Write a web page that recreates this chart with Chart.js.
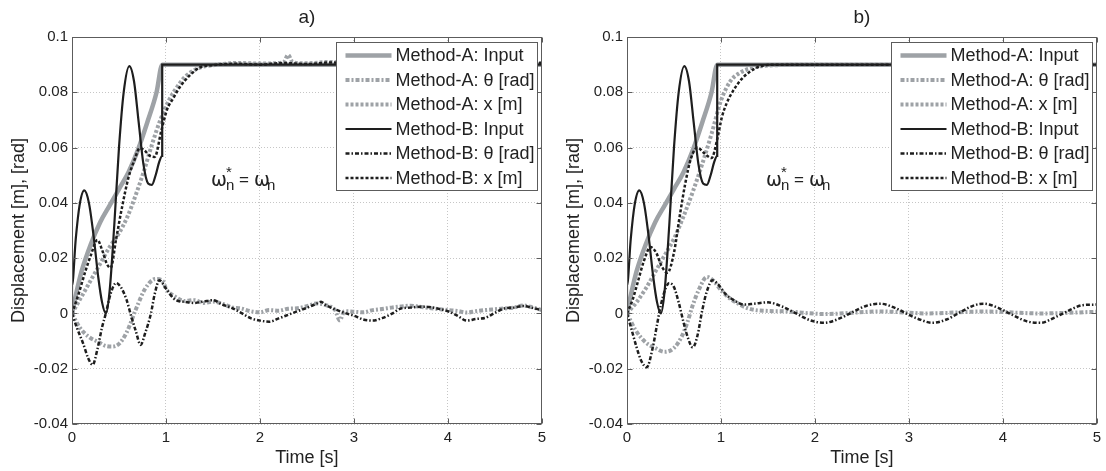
<!DOCTYPE html>
<html>
<head>
<meta charset="utf-8">
<script src="https://cdn.jsdelivr.net/npm/chart.js@4.4.1/dist/chart.umd.min.js"></script>
<style>
  html, body { margin: 0; padding: 0; background: #fff; }
  #wrap { position: relative; width: 1106px; height: 471px; }
  canvas { position: absolute; top: 0; }
  #ca { left: 0; }
  #cb { left: 555px; }
</style>
</head>
<body>
<div id="wrap">
  <canvas id="ca" width="551" height="471"></canvas>
  <canvas id="cb" width="551" height="471"></canvas>
</div>
<script>
// axis ticks and labels
const xTicks = [0, 1, 2, 3, 4, 5];
const yTicks = [-0.04, -0.02, 0, 0.02, 0.04, 0.06, 0.08, 0.1];
const panelTitles = ['a)', 'b)'];
const seriesLabels = ['Method-A: Input', 'Method-A: θ [rad]', 'Method-A: x [m]',
                      'Method-B: Input', 'Method-B: θ [rad]', 'Method-B: x [m]'];

// inputs (same in both panels)
const inputAT = [0, 0.05, 0.1, 0.2, 0.3, 0.4, 0.5, 0.6, 0.7, 0.8, 0.9, 0.96, 5];
const inputAV = [0, 0.008, 0.015, 0.025, 0.033, 0.039, 0.045, 0.051, 0.059, 0.069, 0.080, 0.09, 0.09];
const inputBT = [0, 0, 0.04, 0.08, 0.13, 0.18, 0.23, 0.28, 0.32, 0.36, 0.40, 0.45, 0.50, 0.55, 0.61, 0.66, 0.71, 0.76, 0.81, 0.85, 0.89, 0.93, 0.96, 0.96, 5];
const inputBV = [0, 0.01, 0.027, 0.039, 0.0445, 0.040, 0.028, 0.013, 0.004, 0.0, 0.008, 0.032, 0.060, 0.080, 0.0895, 0.084, 0.069, 0.054, 0.047, 0.0465, 0.050, 0.055, 0.057, 0.09, 0.09];

// panel a) measured
const aThetaAT = [0, 0.08, 0.18, 0.29, 0.36, 0.43, 0.5, 0.58, 0.68, 0.78, 0.89, 0.97, 1.0, 1.1, 1.2, 1.3, 1.4, 1.5, 1.6, 1.7, 1.8, 1.9, 2.0, 2.1, 2.2, 2.3, 2.4, 2.5, 2.6, 2.7, 2.8, 2.85, 2.9, 3.0, 3.1, 3.2, 3.3, 3.4, 3.5, 3.6, 3.7, 3.8, 3.9, 4.0, 4.1, 4.2, 4.3, 4.4, 4.5, 4.6, 4.7, 4.8, 4.9, 5.0];
const aThetaAV = [0, -0.005, -0.0085, -0.0105, -0.0118, -0.012, -0.011, -0.007, 0.0015, 0.009, 0.0125, 0.0115, 0.009, 0.006, 0.0045, 0.0048, 0.0038, 0.0043, 0.0035, 0.0022, 0.0018, 0.0008, 0.0004, 0.0012, 0.0010, 0.0017, 0.0019, 0.0026, 0.0036, 0.0030, 0.0012, -0.0025, 0.0008, 0.0006, 0.0004, 0.0012, 0.0016, 0.0021, 0.0025, 0.0028, 0.0024, 0.0020, 0.0016, 0.0012, 0.0009, 0.0003, 0.0008, 0.0012, 0.0015, 0.0018, 0.0021, 0.0029, 0.0022, 0.0012];
const aXAT = [0, 0.1, 0.2, 0.3, 0.4, 0.5, 0.59, 0.68, 0.77, 0.85, 0.94, 1.03, 1.12, 1.2, 1.3, 1.4, 1.5, 1.6, 1.75, 2.0, 2.25, 2.3, 2.35, 2.5, 2.75, 3.0, 3.25, 3.5, 3.75, 4.0, 4.25, 4.5, 4.75, 5.0];
const aXAV = [0, 0.006, 0.012, 0.018, 0.024, 0.029, 0.035, 0.043, 0.052, 0.061, 0.070, 0.077, 0.082, 0.0855, 0.088, 0.0893, 0.0898, 0.0902, 0.0906, 0.0904, 0.0908, 0.0935, 0.0908, 0.0905, 0.0910, 0.0906, 0.0909, 0.0905, 0.0911, 0.0906, 0.0909, 0.0904, 0.0910, 0.0905];
const aThetaBT = [0, 0.05, 0.12, 0.17, 0.22, 0.27, 0.32, 0.36, 0.41, 0.47, 0.52, 0.58, 0.63, 0.68, 0.73, 0.78, 0.84, 0.88, 0.93, 1.0, 1.1, 1.2, 1.3, 1.4, 1.5, 1.6, 1.7, 1.8, 1.9, 2.0, 2.1, 2.2, 2.3, 2.4, 2.5, 2.6, 2.65, 2.7, 2.8, 2.9, 3.0, 3.1, 3.2, 3.3, 3.4, 3.5, 3.6, 3.7, 3.8, 3.9, 4.0, 4.1, 4.2, 4.3, 4.4, 4.5, 4.6, 4.7, 4.8, 4.9, 5.0];
const aThetaBV = [0, -0.005, -0.011, -0.016, -0.0186, -0.013, -0.005, 0.0, 0.007, 0.011, 0.0095, 0.005, -0.001, -0.0065, -0.0114, -0.007, 0.0, 0.007, 0.012, 0.009, 0.0049, 0.0042, 0.0038, 0.0043, 0.0048, 0.0032, 0.002, 0.0002, -0.0017, -0.0026, -0.003, -0.0018, -0.0005, 0.0008, 0.002, 0.0035, 0.0042, 0.0030, 0.0015, 0.0002, -0.0008, -0.0022, -0.0026, -0.0017, -0.0002, 0.0018, 0.0021, 0.0024, 0.0023, 0.0017, 0.0008, -0.0008, -0.0026, -0.0020, -0.0016, 0.0002, 0.0018, 0.0021, 0.0027, 0.0020, 0.0012];
const aXBT = [0, 0.07, 0.14, 0.2, 0.27, 0.32, 0.37, 0.41, 0.47, 0.53, 0.6, 0.67, 0.72, 0.77, 0.83, 0.88, 0.95, 1.01, 1.08, 1.15, 1.25, 1.36, 1.5, 1.75, 2.0, 2.25, 2.5, 2.75, 3.0, 3.25, 3.5, 3.75, 4.0, 4.25, 4.5, 4.75, 5.0];
const aXBV = [0, 0.007, 0.015, 0.021, 0.0266, 0.023, 0.018, 0.0164, 0.027, 0.038, 0.049, 0.056, 0.0598, 0.059, 0.057, 0.0566, 0.066, 0.0736, 0.078, 0.082, 0.086, 0.089, 0.0898, 0.0903, 0.0900, 0.0906, 0.0902, 0.0908, 0.0903, 0.0907, 0.0904, 0.0909, 0.0905, 0.0907, 0.0903, 0.0908, 0.0906];

// panel b) simulated
const bThetaAT = [0, 0.09, 0.2, 0.3, 0.4, 0.5, 0.58, 0.64, 0.7, 0.77, 0.85, 0.92, 1.0, 1.08, 1.17, 1.26, 1.35, 1.5, 1.7, 2.1, 2.7, 3.2, 3.8, 4.4, 5.0];
const bThetaAV = [0, -0.006, -0.0105, -0.0125, -0.0139, -0.0125, -0.0085, -0.0035, 0.003, 0.009, 0.0132, 0.0118, 0.0085, 0.0058, 0.0038, 0.0022, 0.0013, 0.0009, 0.0007, -0.0002, 0.0007, 0.0, 0.0007, 0.0, 0.0006];
const bXAT = [0, 0.1, 0.2, 0.3, 0.4, 0.5, 0.6, 0.7, 0.8, 0.9, 1.0, 1.1, 1.2, 1.35, 1.6, 2.0, 5];
const bXAV = [0, 0.004, 0.009, 0.015, 0.021, 0.027, 0.035, 0.044, 0.054, 0.065, 0.077, 0.084, 0.087, 0.089, 0.0898, 0.09, 0.09];
const bThetaBT = [0, 0.05, 0.1, 0.15, 0.21, 0.27, 0.32, 0.36, 0.41, 0.45, 0.5, 0.55, 0.6, 0.65, 0.7, 0.75, 0.8, 0.85, 0.91, 0.97, 1.05, 1.15, 1.25, 1.35, 1.5, 1.65, 1.8, 1.95, 2.1, 2.25, 2.4, 2.55, 2.7, 2.85, 3.0, 3.1, 3.25, 3.4, 3.55, 3.7, 3.8, 3.95, 4.1, 4.25, 4.4, 4.55, 4.7, 4.85, 5.0];
const bThetaBV = [0, -0.006, -0.012, -0.017, -0.0195, -0.013, -0.004, 0.003, 0.009, 0.011, 0.0095, 0.004, -0.003, -0.009, -0.0123, -0.008, 0.001, 0.008, 0.012, 0.0105, 0.007, 0.0045, 0.0032, 0.0035, 0.004, 0.0025, 0.0, -0.0025, -0.0034, -0.002, 0.0005, 0.0028, 0.0035, 0.002, -0.0005, -0.002, -0.0034, -0.0022, 0.0005, 0.003, 0.0035, 0.002, -0.0005, -0.0028, -0.0034, -0.0015, 0.001, 0.003, 0.0032];
const bXBT = [0, 0.06, 0.12, 0.18, 0.25, 0.31, 0.37, 0.43, 0.5, 0.56, 0.62, 0.68, 0.75, 0.82, 0.9, 0.96, 1.01, 1.06, 1.12, 1.2, 1.29, 1.43, 1.6, 2.0, 5];
const bXBV = [0, 0.005, 0.012, 0.019, 0.024, 0.022, 0.017, 0.0147, 0.022, 0.035, 0.047, 0.056, 0.060, 0.058, 0.0562, 0.063, 0.071, 0.076, 0.080, 0.084, 0.087, 0.0895, 0.09, 0.09, 0.09];

const GRAY = '#9ea2a6';
const DARK = '#1e1e1e';
const FONT = "'Liberation Sans', Arial, sans-serif";
const styles = [
  { color: GRAY, width: 4.5, dash: [], order: 2 },
  { color: GRAY, width: 4, dash: [4, 2, 2, 2], order: 2 },
  { color: GRAY, width: 4, dash: [3, 2], order: 2 },
  { color: DARK, width: 2.2, dash: [], order: 1 },
  { color: DARK, width: 2.5, dash: [4, 2, 1.5, 2], order: 1 },
  { color: DARK, width: 2.5, dash: [3, 2], order: 1 }
];

// annotation anchor (data units)
const noteX = 1.48, noteY = 0.046;

function decor(title) {
  return {
    id: 'decor',
    afterDatasetsDraw(chart) {
      const { ctx, chartArea: a, scales: { x, y } } = chart;
      const L = Math.round(a.left) + 0.5, R = Math.round(a.right) - 0.5;
      const T = Math.round(a.top) + 0.5, B = Math.round(a.bottom) - 0.5;
      ctx.save();
      // frame and inward ticks
      ctx.strokeStyle = '#5c5c5c';
      ctx.lineWidth = 1;
      ctx.setLineDash([]);
      ctx.strokeRect(L, T, R - L, B - T);
      ctx.beginPath();
      xTicks.forEach(v => {
        const px = Math.round(x.getPixelForValue(v)) + 0.5;
        ctx.moveTo(px, B); ctx.lineTo(px, B - 5);
        ctx.moveTo(px, T); ctx.lineTo(px, T + 5);
      });
      yTicks.forEach(v => {
        const py = Math.round(y.getPixelForValue(v)) + 0.5;
        ctx.moveTo(L, py); ctx.lineTo(L + 5, py);
        ctx.moveTo(R, py); ctx.lineTo(R - 5, py);
      });
      ctx.stroke();

      // legend box
      const bw = 201, bh = 148;
      const bx = Math.round(a.right) - 5 - bw + 0.5, by = Math.round(a.top) + 5 + 0.5;
      ctx.fillStyle = '#fff';
      ctx.fillRect(bx, by, bw, bh);
      ctx.strokeStyle = '#5c5c5c';
      ctx.strokeRect(bx, by, bw, bh);
      ctx.font = '18px ' + FONT;
      ctx.textBaseline = 'middle';
      ctx.textAlign = 'left';
      chart.data.datasets.forEach((ds, i) => {
        const ry = by + 13 + i * 24.5;
        ctx.save();
        ctx.strokeStyle = ds.borderColor;
        ctx.lineWidth = ds.borderWidth;
        ctx.setLineDash(ds.borderDash);
        ctx.beginPath();
        ctx.moveTo(bx + 9, ry); ctx.lineTo(bx + 55, ry);
        ctx.stroke();
        ctx.restore();
        ctx.fillStyle = '#222';
        ctx.fillText(ds.label, bx + 59, ry + 1);
      });

      // annotation ω*n = ωn
      const ax = x.getPixelForValue(noteX), ay = y.getPixelForValue(noteY);
      ctx.fillStyle = '#222';
      ctx.textBaseline = 'alphabetic';
      ctx.font = "19px 'DejaVu Sans', sans-serif";
      ctx.fillText('ω', ax, ay);
      ctx.fillText('ω', ax + 43, ay);
      ctx.font = '15px ' + FONT;
      ctx.fillText('n', ax + 15, ay + 4);
      ctx.fillText('*', ax + 15, ay - 9);
      ctx.fillText('n', ax + 56, ay + 4);
      ctx.font = '17px ' + FONT;
      ctx.fillText('=', ax + 28, ay - 1);

      // panel title
      ctx.font = '19px ' + FONT;
      ctx.textAlign = 'center';
      ctx.textBaseline = 'middle';
      ctx.fillText(title, (a.left + a.right) / 2, 18);
      ctx.restore();
    }
  };
}

function makeChart(id, title, sets) {
  const datasets = sets.map((s, i) => ({
    label: seriesLabels[i],
    data: s[0].map((t, k) => ({ x: t, y: s[1][k] })),
    borderColor: styles[i].color,
    borderWidth: styles[i].width,
    borderDash: styles[i].dash,
    borderCapStyle: 'butt',
    order: styles[i].order,
    pointRadius: 0,
    fill: false,
    cubicInterpolationMode: 'monotone'
  }));
  return new Chart(document.getElementById(id), {
    type: 'line',
    data: { datasets },
    options: {
      responsive: false,
      animation: false,
      layout: { padding: { top: 37, right: 4, left: 0, bottom: 0 } },
      plugins: { legend: { display: false }, tooltip: { enabled: false } },
      scales: {
        x: {
          type: 'linear', min: 0, max: 5,
          afterBuildTicks: s => { s.ticks = xTicks.map(v => ({ value: v })); },
          afterFit: s => { s.height = 47; },
          ticks: { font: { size: 15, family: FONT }, color: '#222', padding: 5, maxRotation: 0, callback: v => String(v) },
          grid: { color: '#c6c6c6', lineWidth: 1, drawTicks: false },
          border: { display: false, dash: [1, 2] },
          title: { display: true, text: 'Time [s]', font: { size: 18, family: FONT }, color: '#222', padding: { top: 0, bottom: 2.2 } }
        },
        y: {
          type: 'linear', min: -0.04, max: 0.1,
          afterBuildTicks: s => { s.ticks = yTicks.map(v => ({ value: v })); },
          afterFit: s => { s.width = 72; },
          ticks: { font: { size: 15, family: FONT }, color: '#222', padding: 4, callback: v => String(Math.round(v * 100) / 100) },
          grid: { color: '#c6c6c6', lineWidth: 1, drawTicks: false },
          border: { display: false, dash: [1, 2] },
          title: { display: true, text: 'Displacement [m], [rad]', font: { size: 18, family: FONT }, color: '#222', padding: { top: 8.5, bottom: 0 } }
        }
      }
    },
    plugins: [decor(title)]
  });
}

makeChart('ca', panelTitles[0], [
  [inputAT, inputAV], [aThetaAT, aThetaAV], [aXAT, aXAV],
  [inputBT, inputBV], [aThetaBT, aThetaBV], [aXBT, aXBV]
]);
makeChart('cb', panelTitles[1], [
  [inputAT, inputAV], [bThetaAT, bThetaAV], [bXAT, bXAV],
  [inputBT, inputBV], [bThetaBT, bThetaBV], [bXBT, bXBV]
]);
</script>
</body>
</html>
